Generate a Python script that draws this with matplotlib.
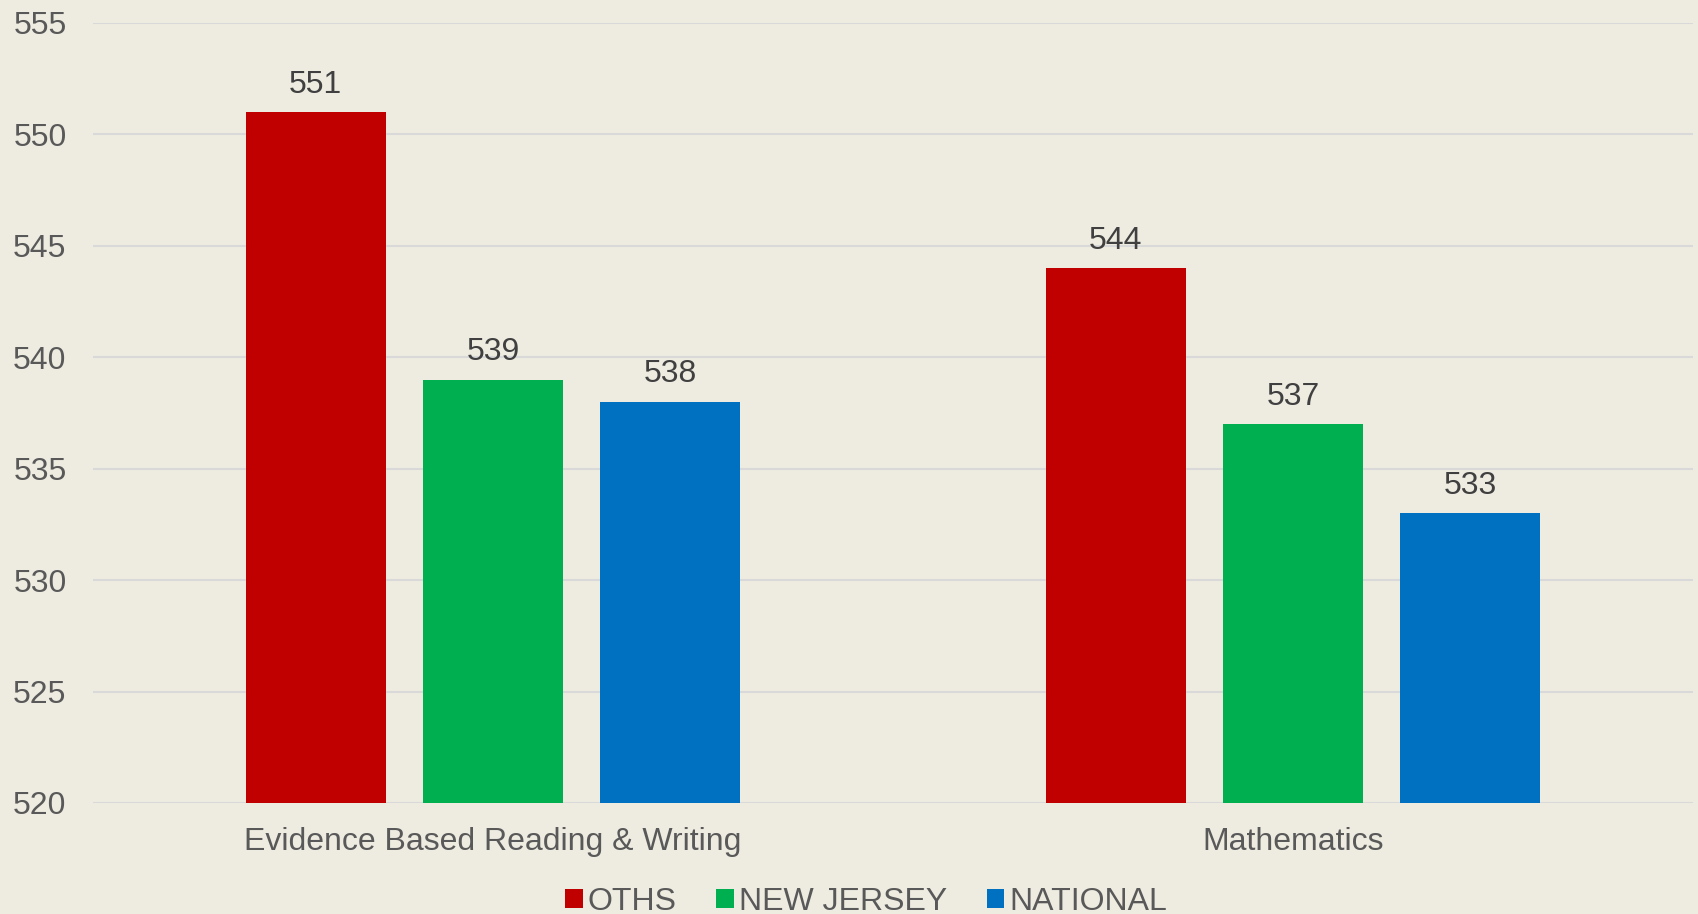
import numpy as np
import matplotlib.pyplot as plt

categories = ["Evidence Based Reading & Writing", "Mathematics"]
series_names = ["OTHS", "NEW JERSEY", "NATIONAL"]
oths = [551, 544]
new_jersey = [539, 537]
national = [538, 533]
colors = ["#C00000", "#00B050", "#0070C0"]

bg = "#EEEBE0"
txt = "#595959"
plt.rcParams['font.family'] = ['Liberation Sans', 'DejaVu Sans']

fig = plt.figure(figsize=(16.98, 9.14), dpi=100, facecolor=bg)
ax = fig.add_axes([93 / 1698, 1 - 803 / 914, 1600 / 1698, 780 / 914])
ax.set_facecolor(bg)

x = np.arange(len(categories))
width = 0.175
pitch = 0.2215
for i, (vals, name, c) in enumerate(zip([oths, new_jersey, national], series_names, colors)):
    bars = ax.bar(x + (i - 1) * pitch, vals, width, color=c, label=name, zorder=3)
    for b, v in zip(bars, vals):
        ax.annotate(str(v), (b.get_x() + b.get_width() / 2, v), xytext=(0, 9),
                    textcoords="offset points", ha="center", va="bottom",
                    fontsize=23, color="#404040")

ax.set_ylim(520, 555)
ax.set_xlim(-0.5, 1.5)
ax.set_yticks(range(520, 556, 5))
ax.set_xticks(x)
ax.set_xticklabels(categories)
ax.grid(axis="y", color="#D9D9D9", linewidth=1.5, zorder=0)
for s in ax.spines.values():
    s.set_visible(False)
ax.tick_params(axis="both", length=0, labelsize=23, labelcolor=txt)
ax.tick_params(axis="y", pad=19)
ax.tick_params(axis="x", pad=17)

fig.legend(loc="center", bbox_to_anchor=(866 / 1698, 1 - 902 / 914), ncol=3, frameon=False,
           fontsize=23, labelcolor=txt, handlelength=0.55, handleheight=0.55,
           handletextpad=0.15, columnspacing=1.25)

fig.savefig("out.png", dpi=100, facecolor=bg)
